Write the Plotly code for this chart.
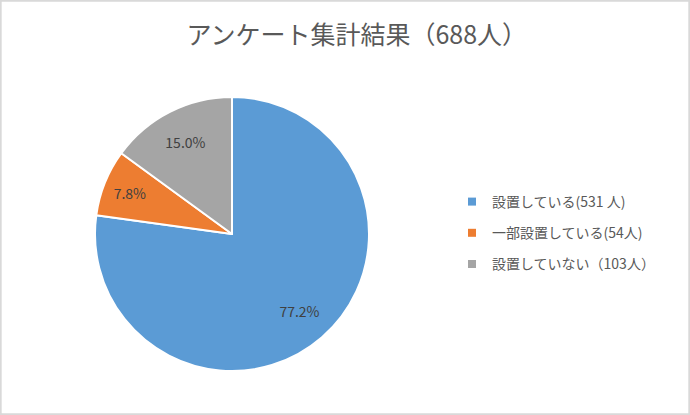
import plotly.graph_objects as go

# survey result (688 respondents)
labels = ["設置している(531 人)", "一部設置している(54人)", "設置していない（103人）"]
counts = [531, 54, 103]
colors = ["#5B9BD5", "#ED7D31", "#A5A5A5"]

W, H = 690, 415
cx, cy, r = 232, 234, 137
domain = dict(x=[(cx - r) / W, (cx + r) / W], y=[1 - (cy + r) / H, 1 - (cy - r) / H])

fig = go.Figure()

# the pie itself
fig.add_trace(
    go.Pie(
        labels=labels,
        values=counts,
        sort=False,
        direction="clockwise",
        rotation=0,
        marker=dict(colors=colors, line=dict(color="white", width=2)),
        textinfo="none",
        domain=domain,
        showlegend=False,
        hoverinfo="label+value+percent",
    )
)

# transparent ring on top, only to push the % labels outwards like Excel does
fig.add_trace(
    go.Pie(
        labels=labels,
        values=counts,
        sort=False,
        direction="clockwise",
        rotation=0,
        hole=0.5,
        marker=dict(colors=["rgba(0,0,0,0)"] * len(counts), line=dict(width=0)),
        texttemplate="%{percent:.1%}",
        textposition="inside",
        insidetextorientation="horizontal",
        textfont=dict(size=14, color="#404040", family="Noto Sans CJK JP"),
        domain=domain,
        showlegend=False,
        hoverinfo="skip",
    )
)

# legend entries (one group each so the spacing can match)
for lab, col in zip(labels, colors):
    fig.add_trace(
        go.Scatter(
            x=[None],
            y=[None],
            mode="markers",
            name=lab,
            legendgroup=lab,
            marker=dict(symbol="square", size=8, color=col),
        )
    )

fig.update_layout(
    width=W,
    height=H,
    margin=dict(l=0, r=0, t=0, b=0),
    paper_bgcolor="white",
    plot_bgcolor="white",
    xaxis=dict(visible=False),
    yaxis=dict(visible=False),
    font=dict(family="Noto Sans CJK JP", color="#595959"),
    title=dict(
        text="アンケート集計結果（688人）",
        x=0.517,
        xanchor="center",
        y=1 - 35 / H,
        yanchor="middle",
        font=dict(size=25, color="#595959"),
    ),
    legend=dict(
        x=452 / W,
        y=1 - 233 / H,
        xanchor="left",
        yanchor="middle",
        font=dict(size=14, color="#595959"),
        itemwidth=30,
        itemsizing="trace",
        tracegroupgap=10,
        traceorder="grouped",
    ),
    shapes=[
        dict(
            type="rect",
            xref="paper",
            yref="paper",
            x0=0.001,
            x1=0.999,
            y0=0.002,
            y1=0.998,
            line=dict(color="#D9D9D9", width=2),
        )
    ],
)

fig.write_html(
    "out.html",
    config={"displayModeBar": False},
    post_script="document.body.style.margin='0';",
)
